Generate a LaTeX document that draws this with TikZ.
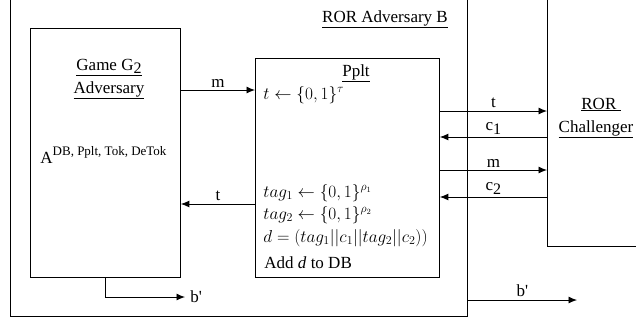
\documentclass[tikz,border=0pt]{standalone}
\usepackage{fontspec}
\setmainfont{Liberation Serif}
\usetikzlibrary{arrows.meta}
\begin{document}
\begin{tikzpicture}[x=1pt,y=-1pt,line width=0.9pt,
  every node/.style={font=\fontsize{17}{20}\selectfont},
  frame/.style={draw,inner sep=0pt},
  arr/.style={-{Latex[length=8.5pt,width=7pt]}},
  lbl/.style={above,inner sep=2.5pt}]
\useasboundingbox (0,0) rectangle (636,322);
\clip (0,0) rectangle (636,322);
% boxes
\node[frame, minimum width=457, minimum height=340, anchor=south west] (advB) at (10,317) {};
\node[frame, minimum width=150, minimum height=249, anchor=north west] (game) at (30,28) {};
\node[frame, minimum width=184, minimum height=219, anchor=north west] (pplt) at (255,58) {};
\node[frame, minimum width=120, minimum height=270, anchor=south west] (ror) at (547,247) {};
% texts
\node[anchor=base] (tB) at (385,22) {\underline{ROR Adversary B}};
\node[anchor=base] (tGame) at (109,70) {\underline{Game G\raisebox{-0.45ex}{\fontsize{16}{18}\selectfont 2}}};
\node[anchor=base] (tAdv) at (109,93) {\underline{Adversary}};
\node[anchor=base west,inner sep=0pt] (tA) at (40,163) {A\raisebox{0.95ex}{\fontsize{13}{15}\selectfont DB, Pplt, Tok, DeTok}};
\node[anchor=base] (tPplt) at (356,76) {\underline{Pplt}};
\node[anchor=base west,inner sep=0pt] (l1) at (263,99) {$t \leftarrow \{0,1\}^{\tau}$};
\node[anchor=base west,inner sep=0pt] (l2) at (263,197) {$tag_1 \leftarrow \{0,1\}^{\rho_1}$};
\node[anchor=base west,inner sep=0pt] (l3) at (263,219) {$tag_2 \leftarrow \{0,1\}^{\rho_2}$};
\node[anchor=base west,inner sep=0pt] (l4) at (263,242) {$d = (tag_1||c_1||tag_2||c_2))$};
\node[anchor=base west,inner sep=0pt] (l5) at (264,268) {Add \textit{d} to DB};
\node[anchor=base] (tROR) at (601,109) {\underline{ROR~}};
\node[anchor=base] (tCh) at (596,132) {\underline{Challenger}};
% connectors
\draw[arr] (game.east |- 0,90) -- node[lbl] (lm1) {m} (pplt.west |- 0,90);
\draw[arr] (pplt.east |- 0,111) -- node[lbl] (lt1) {t} (ror.west |- 0,111);
\draw[arr] (ror.west |- 0,137) -- node[lbl] (lc1) {c\raisebox{-0.4ex}{\fontsize{16}{18}\selectfont 1}} (pplt.east |- 0,137);
\draw[arr] (pplt.east |- 0,170) -- node[lbl] (lm2) {m} (ror.west |- 0,170);
\draw[arr] (ror.west |- 0,197) -- node[lbl] (lc2) {c\raisebox{-0.4ex}{\fontsize{16}{18}\selectfont 2}} (pplt.east |- 0,197);
\draw[arr] (pplt.west |- 0,204) -- node[lbl] (lt2) {t} (game.east |- 0,204);
\coordinate (bin) at (185,297);
\draw[arr] (game.south) |- (bin) node[right,inner sep=5pt] (lb1) {b\textquotesingle};
\coordinate (bout) at (577,300);
\draw[arr] (advB.east |- 0,300) -- node[lbl] (lb2) {b\textquotesingle} (bout);
\end{tikzpicture}
\end{document}
